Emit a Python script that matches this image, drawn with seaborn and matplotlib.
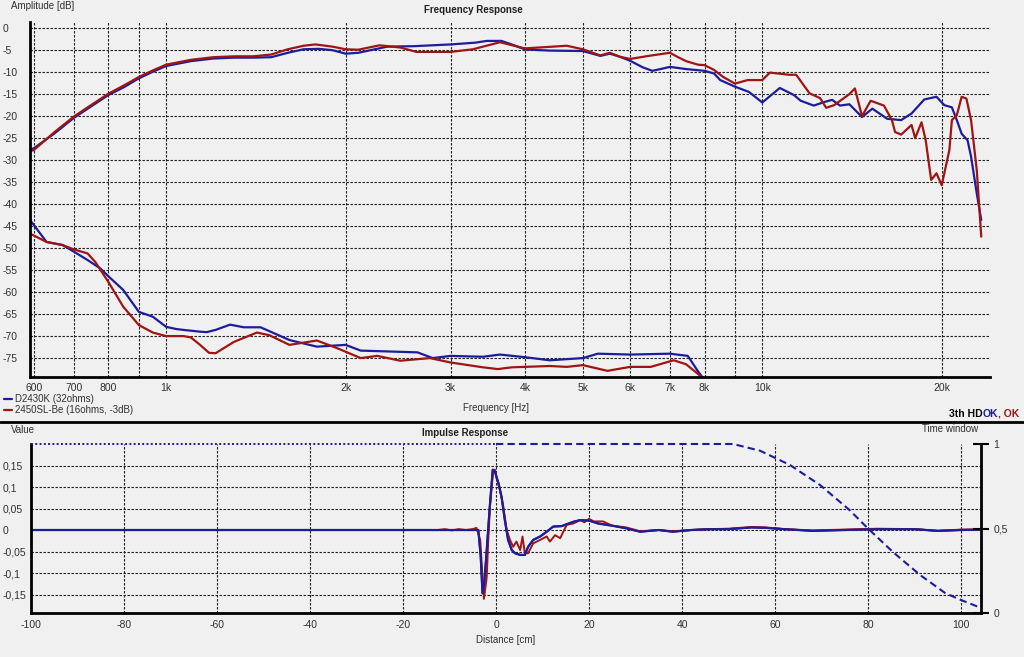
import numpy as np
import pandas as pd
import matplotlib
matplotlib.use('Agg')
import matplotlib.pyplot as plt
import seaborn as sns
from matplotlib.lines import Line2D
from matplotlib.ticker import FixedLocator, NullLocator

# ---------------- data ----------------
# Frequency response, D2430K (fundamental)
blue_f = [591, 600, 650, 700, 750, 800, 850, 900, 950, 1000, 1100, 1200, 1300, 1400, 1500,
          1600, 1700, 1800, 1900, 2000, 2100, 2350, 2600, 3000, 3300, 3450, 3650, 3800, 4000,
          4400, 5000, 5350, 5550, 5770, 6000, 6300, 6540, 6800, 7000, 7450, 8000, 8300, 8500,
          9000, 9500, 10000, 10700, 11300, 11600, 12200, 12700, 13100, 13500, 14000, 14700,
          15300, 16200, 17100, 17800, 18700, 19600, 20200, 20800, 21200, 21600, 22100, 22400,
          22900, 23300]
blue_db = [-27.6, -27.3, -23.9, -20.4, -17.7, -15.2, -13.4, -11.4, -9.9, -8.6, -7.5, -6.9, -6.7,
           -6.7, -6.6, -5.6, -4.8, -4.7, -5.0, -5.8, -5.6, -4.2, -4.1, -3.7, -3.3, -2.9, -2.9,
           -3.7, -4.85, -5.1, -5.2, -6.3, -5.8, -6.5, -7.4, -8.9, -9.7, -9.2, -8.8, -9.3, -9.7,
           -10.3, -11.8, -13.3, -14.5, -16.9, -13.6, -15.2, -16.5, -17.6, -16.8, -16.3, -17.6,
           -17.3, -20.2, -18.3, -20.6, -20.9, -19.4, -16.2, -15.6, -17.5, -18.0, -20.9, -24.0,
           -25.5, -29.2, -37.6, -43.6]

# Frequency response, 2450SL-Be (fundamental)
red_f = [591, 600, 650, 700, 750, 800, 850, 900, 950, 1000, 1100, 1200, 1300, 1400, 1500, 1600,
         1700, 1780, 1900, 2000, 2100, 2280, 2470, 2630, 3000, 3270, 3630, 4000, 4700, 5000,
         5350, 5550, 5770, 6000, 6450, 7000, 7200, 7450, 7800, 8000, 8300, 8600, 9000, 9450,
         10000, 10300, 11100, 11400, 12000, 12500, 12800, 13200, 14000, 14300, 14700, 15200,
         16000, 16500, 16700, 17100, 17800, 18050, 18500, 18800, 19200, 19600, 20000, 20600,
         20800, 21200, 21600, 22000, 22400, 22900, 23300]
red_db = [-28.0, -27.7, -23.6, -20.1, -17.4, -14.9, -13.0, -11.1, -9.6, -8.3, -7.2, -6.6, -6.4,
          -6.4, -6.0, -4.8, -4.0, -3.7, -4.2, -4.8, -4.9, -3.9, -4.4, -5.4, -5.4, -4.8, -3.2,
          -4.6, -4.0, -4.8, -6.2, -5.6, -6.5, -7.0, -6.3, -5.6, -6.5, -7.5, -8.3, -8.4, -9.5,
          -11.1, -12.6, -11.8, -11.8, -10.1, -10.6, -10.6, -14.8, -15.9, -18.1, -17.5, -15.0,
          -13.7, -20.0, -16.5, -17.6, -20.9, -23.6, -24.2, -22.0, -25.0, -21.4, -25.5, -34.5,
          -33.0, -35.7, -27.7, -20.9, -19.8, -15.6, -16.0, -20.9, -32.3, -47.4]

# 3rd harmonic distortion, D2430K
blue_hd_f = [591, 630, 670, 700, 738, 775, 800, 847, 900, 950, 1000, 1040, 1070, 1140, 1170,
             1210, 1280, 1350, 1440, 1610, 1790, 2000, 2120, 2640, 2800, 3000, 3400, 3630,
             4000, 4400, 5000, 5300, 6000, 7000, 7500, 7800, 7950]
blue_hd_db = [-43.6, -48.6, -49.3, -50.8, -52.7, -54.6, -56.4, -59.5, -64.5, -65.6, -67.9, -68.4,
              -68.6, -69.0, -69.1, -68.6, -67.4, -68.0, -68.0, -70.9, -72.4, -72.0, -73.3, -73.7,
              -75.0, -74.5, -74.7, -74.2, -74.8, -75.5, -75.0, -74.0, -74.2, -74.0, -74.5,
              -78.0, -79.5]

# 3rd harmonic distortion, 2450SL-Be
red_hd_f = [591, 630, 670, 700, 738, 760, 800, 847, 900, 950, 1000, 1070, 1100, 1140, 1180,
            1210, 1300, 1420, 1490, 1610, 1790, 1940, 2120, 2260, 2470, 2770, 3000, 3400, 3600,
            3800, 4400, 4700, 5000, 5500, 6000, 6500, 7100, 7450, 7850, 7950]
red_hd_db = [-46.7, -48.6, -49.3, -50.3, -51.2, -53.1, -57.7, -63.3, -67.5, -69.2, -70.0, -70.0,
             -70.3, -72.0, -73.8, -73.9, -71.3, -69.2, -69.8, -72.0, -71.0, -72.8, -75.0, -74.5,
             -75.6, -75.0, -76.0, -77.1, -77.5, -77.1, -76.8, -77.0, -76.6, -77.9, -77.0, -77.0,
             -75.5, -76.4, -78.9, -79.5]

# Impulse response
blue_ir_x = [-100, -4.5, -3.8, -3.3, -2.9, -2.5, -2.0, -1.3, -0.7, -0.2, 0.2, 0.5, 1.2, 1.9, 2.6,
             3.4, 4.1, 5.2, 6.2, 6.9, 8.0, 9.5, 10.9, 12.3, 14.1, 16.6, 18.1, 20, 22, 25, 28, 31,
             35, 38, 42, 46, 50, 55, 58, 62, 68, 75, 82, 90, 95, 100, 104.3]
blue_ir_v = [0, 0, 0.0, -0.06, -0.147, -0.12, -0.047, 0.06, 0.14, 0.135, 0.12, 0.11, 0.077, 0.023,
             -0.023, -0.047, -0.054, -0.058, -0.058, -0.039, -0.023, -0.015, -0.004, 0.008, 0.009,
             0.019, 0.023, 0.022, 0.015, 0.01, 0.004, -0.004, 0.0, -0.004, 0.0, 0.002, 0.002,
             0.006, 0.005, 0.002, -0.002, 0.0, 0.002, 0.002, -0.002, 0.0, 0.001]

red_ir_x = [-12.5, -11, -9.5, -8, -6.5, -5, -4.2, -3.4, -2.6, -2.0, -1.65, -1.3, -0.6, -0.2, 0.15,
            0.86, 1.57, 2.3, 3.0, 3.7, 4.4, 5.2, 5.7, 6.2, 6.9, 8.0, 9.5, 10.9, 11.6, 12.7, 13.8,
            15.2, 16.6, 18.1, 19, 20, 21, 23, 25, 28, 31, 35, 38, 42, 46, 50, 55, 58, 62, 68,
            75, 82, 90, 95, 100, 104.3]
red_ir_v = [0, 0.002, -0.001, 0.002, 0.0, 0.002, 0.005, -0.023, -0.16, -0.11, -0.02, 0.054, 0.14,
            0.14, 0.12, 0.093, 0.054, 0.0, -0.023, -0.039, -0.027, -0.047, -0.015, -0.054, -0.054,
            -0.031, -0.023, -0.015, -0.027, -0.012, -0.019, 0.012, 0.015, 0.023, 0.018, 0.026,
            0.02, 0.02, 0.01, 0.006, -0.003, 0.0, -0.003, 0.0, 0.002, 0.003, 0.007, 0.006,
            0.002, -0.001, 0.001, 0.003, 0.002, -0.002, 0.001, 0.001]

# Time window
tw_flat_x = [-100, 0]
tw_flat_v = [1, 1]
tw_x = [0, 51, 56.8, 63.2, 69.7, 76, 80, 85.4, 91.2, 96.6, 100, 104.3]
tw_v = [1, 1, 0.96, 0.876, 0.757, 0.61, 0.5, 0.36, 0.225, 0.118, 0.077, 0.03]

freq_grid = [600, 700, 800, 900, 1000, 2000, 3000, 4000, 5000, 6000, 7000, 8000, 9000, 10000, 20000]
freq_labels = ['600', '700', '800', '', '1k', '2k', '3k', '4k', '5k', '6k', '7k', '8k', '', '10k', '20k']
db_ticks = [0, -5, -10, -15, -20, -25, -30, -35, -40, -45, -50, -55, -60, -65, -70, -75]
dist_ticks = [-100, -80, -60, -40, -20, 0, 20, 40, 60, 80, 100]
val_ticks = [0.15, 0.1, 0.05, 0, -0.05, -0.1, -0.15]
val_labels = ['0,15', '0,1', '0,05', '0', '-0,05', '-0,1', '-0,15']
tw_ticks = [0, 0.5, 1]
tw_labels = ['0', '0,5', '1']

# ---------------- style ----------------
sns.set_theme(style='white')
plt.rcParams['font.family'] = ['Liberation Sans', 'DejaVu Sans']

BG = '#f0f0f0'
BLUE = '#1c1c9c'
RED = '#a01414'
TXT = '#303030'
FS = 7
TFS = 7.5
W, H = 1024, 657

fig = plt.figure(figsize=(W / 100, H / 100), dpi=100, facecolor=BG)

def frac(x0, y0, x1, y1):
    return [x0 / W, 1 - y1 / H, (x1 - x0) / W, (y1 - y0) / H]

grid_kw = dict(color='#202020', linewidth=0.8, linestyle=(0, (2.2, 1.4)))

# ---------------- frequency response ----------------
ax1 = fig.add_axes(frac(30, 22, 990, 377))
ax1.set_facecolor(BG)
ax1.set_xscale('log')

fr = pd.DataFrame({'f': blue_f, 'db': blue_db})
sns.lineplot(data=fr, x='f', y='db', ax=ax1, color=BLUE, lw=1.6, sort=False,
             estimator=None, label='D2430K (32ohms)')
fr2 = pd.DataFrame({'f': red_f, 'db': red_db})
sns.lineplot(data=fr2, x='f', y='db', ax=ax1, color=RED, lw=1.6, sort=False,
             estimator=None, label='2450SL-Be (16ohms, -3dB)')
sns.lineplot(x=blue_hd_f, y=blue_hd_db, ax=ax1, color=BLUE, lw=1.6, sort=False,
             estimator=None, label='_nolegend_')
sns.lineplot(x=red_hd_f, y=red_hd_db, ax=ax1, color=RED, lw=1.6, sort=False,
             estimator=None, label='_nolegend_')

ax1.set_xlim(591, 24100)
ax1.set_ylim(-79.3, 1.4)
ax1.xaxis.set_major_locator(FixedLocator(freq_grid))
ax1.xaxis.set_minor_locator(NullLocator())
ax1.set_xticklabels(freq_labels)
ax1.yaxis.set_major_locator(FixedLocator(db_ticks))
ax1.set_yticklabels([str(v) for v in db_ticks])
ax1.grid(True, which='major', **grid_kw)
ax1.set_xlabel('')
ax1.set_ylabel('')
for s in ['top', 'right']:
    ax1.spines[s].set_visible(False)
for s in ['left', 'bottom']:
    ax1.spines[s].set_color('black')
    ax1.spines[s].set_linewidth(2)
ax1.tick_params(axis='x', length=0, pad=4, labelsize=TFS, labelcolor=TXT)
ax1.tick_params(axis='y', length=0, pad=19.5, labelsize=TFS, labelcolor=TXT)
for lab in ax1.get_yticklabels():
    lab.set_ha('left')

ax1.legend(loc='upper left', bbox_to_anchor=(4 / W, 1 - 394 / H), bbox_transform=fig.transFigure,
           frameon=False, fontsize=FS, handlelength=0.8, handletextpad=0.3, labelspacing=0.15,
           borderpad=0, borderaxespad=0, labelcolor=TXT)

fig.text(11 / W, 1 - 6 / H, 'Amplitude [dB]', fontsize=FS, color=TXT, va='center', ha='left')
fig.text(473 / W, 1 - 10 / H, 'Frequency Response', fontsize=FS, color='#202020',
         fontweight='bold', va='center', ha='center')
fig.text(496 / W, 1 - 408 / H, 'Frequency [Hz]', fontsize=FS, color=TXT, va='center', ha='center')

# "3th HD OK, OK" status
fig.text(983 / W, 1 - 414 / H, '3th HD', fontsize=7.5, fontweight='bold', color='black',
         va='center', ha='right')
fig.text(983 / W, 1 - 414 / H, 'OK', fontsize=7.5, fontweight='bold', color=BLUE, va='center')
fig.text(998 / W, 1 - 414 / H, ', OK', fontsize=7.5, fontweight='bold', color=RED, va='center')

fig.add_artist(Line2D([0, 1], [1 - 422 / H, 1 - 422 / H], color='black', lw=2,
                      transform=fig.transFigure))

# ---------------- impulse response ----------------
ax2 = fig.add_axes(frac(31, 444, 981, 613))
ax2.set_facecolor(BG)
sns.lineplot(x=blue_ir_x, y=blue_ir_v, ax=ax2, color=BLUE, lw=1.6, sort=False, estimator=None)
sns.lineplot(x=red_ir_x, y=red_ir_v, ax=ax2, color=RED, lw=1.4, sort=False, estimator=None)
sns.lineplot(x=blue_ir_x, y=blue_ir_v, ax=ax2, color=BLUE, lw=1.4, sort=False, estimator=None)
ax2.set_xlim(-100, 104.3)
ax2.set_ylim(-0.193, 0.2)
ax2.xaxis.set_major_locator(FixedLocator(dist_ticks))
ax2.set_xticklabels([str(v) for v in dist_ticks])
ax2.yaxis.set_major_locator(FixedLocator(val_ticks))
ax2.set_yticklabels(val_labels)
ax2.grid(True, **grid_kw)
ax2.set_xlabel('')
ax2.set_ylabel('')
for s in ['top', 'right']:
    ax2.spines[s].set_visible(False)
for s in ['left', 'bottom']:
    ax2.spines[s].set_color('black')
    ax2.spines[s].set_linewidth(2)
ax2.tick_params(axis='x', length=0, pad=5, labelsize=TFS, labelcolor=TXT)
ax2.tick_params(axis='y', length=0, pad=20.5, labelsize=TFS, labelcolor=TXT)
for lab in ax2.get_yticklabels():
    lab.set_ha('left')

ax3 = ax2.twinx()
ax3.set_ylim(0, 1)
sns.lineplot(x=tw_flat_x, y=tw_flat_v, ax=ax3, color=BLUE, lw=1.4, linestyle=(0, (1, 1.2)),
             sort=False, estimator=None)
sns.lineplot(x=tw_x, y=tw_v, ax=ax3, color=BLUE, lw=1.5, linestyle=(0, (3.5, 2)),
             sort=False, estimator=None)
for ln in ax3.get_lines():
    ln.set_clip_on(False)
ax3.set_xlim(-100, 104.3)
ax3.yaxis.set_major_locator(FixedLocator(tw_ticks))
ax3.set_yticklabels(tw_labels)
ax3.set_ylabel('')
for s in ['top', 'left', 'bottom']:
    ax3.spines[s].set_visible(False)
ax3.spines['right'].set_color('black')
ax3.spines['right'].set_linewidth(2)
ax3.tick_params(axis='y', direction='inout', length=12, width=1.5, color='black', pad=3,
                labelsize=TFS, labelcolor=TXT)

fig.text(11 / W, 1 - 430 / H, 'Value', fontsize=FS, color=TXT, va='center', ha='left')
fig.text(465 / W, 1 - 433 / H, 'Impulse Response', fontsize=FS, color='#202020',
         fontweight='bold', va='center', ha='center')
fig.text(950 / W, 1 - 429 / H, 'Time window', fontsize=FS, color=TXT, va='center', ha='center')
fig.text(506 / W, 1 - 640 / H, 'Distance [cm]', fontsize=FS, color=TXT, va='center', ha='center')

fig.savefig('out.png', dpi=100, facecolor=BG)
